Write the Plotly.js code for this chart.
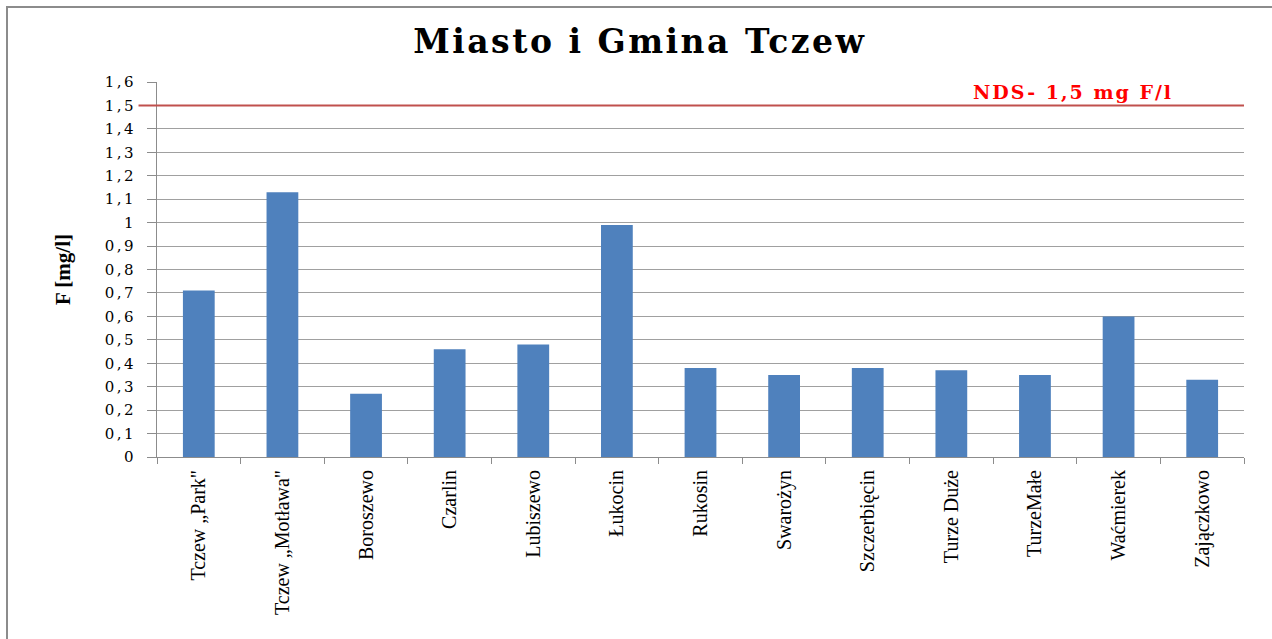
<!DOCTYPE html>
<html>
<head>
<meta charset="utf-8">
<script src="https://cdn.plot.ly/plotly-3.0.1.min.js"></script>
<style>
html,body{margin:0;padding:0;background:#fff;overflow:hidden;}
#chart{width:1272px;height:639px;}
#frame{position:absolute;left:6px;top:6px;width:1400px;height:800px;border-left:2px solid #8c8c8c;border-top:2px solid #8c8c8c;pointer-events:none;}
#chart .ytick text{letter-spacing:2.5px;}
#chart .gtitle{letter-spacing:2.5px;}
#chart .annotation-text{letter-spacing:2px;}
</style>
</head>
<body>
<div id="chart"></div>
<div id="frame"></div>
<script>
var categories = ['Tczew „Park"', 'Tczew „Motława"', 'Boroszewo', 'Czarlin', 'Lubiszewo', 'Łukocin', 'Rukosin', 'Swarożyn', 'Szczerbięcin', 'Turze Duże', 'TurzeMałe', 'Waćmierek', 'Zajączkowo'];
var fluorValues = [0.71, 1.13, 0.27, 0.46, 0.48, 0.99, 0.38, 0.35, 0.38, 0.37, 0.35, 0.60, 0.33];
var ndsLimit = 1.5;
var ndsLabel = 'NDS- 1,5 mg F/l';
var chartTitle = 'Miasto i Gmina Tczew';
var yTitle = 'F [mg/l]';

var serif = '"Liberation Serif", "Times New Roman", serif';
var wideSerif = '"DejaVu Serif", serif';

var trace = {
  type: 'bar',
  x: categories,
  y: fluorValues,
  marker: {color: '#4f81bd'},
  hoverinfo: 'x+y'
};

var layout = {
  width: 1272,
  height: 639,
  margin: {l: 157, r: 28, t: 82, b: 182},
  paper_bgcolor: '#ffffff',
  plot_bgcolor: '#ffffff',
  separators: ',.',
  bargap: 0.62,
  showlegend: false,
  title: {
    text: '<b>' + chartTitle + '</b>',
    font: {family: wideSerif, size: 33, color: '#000'},
    x: 0.503, xanchor: 'center',
    y: 0.935, yanchor: 'middle'
  },
  xaxis: {
    type: 'category',
    tickangle: -90,
    tickson: 'boundaries',
    ticks: 'outside',
    ticklen: 6,
    tickcolor: '#8c8c8c',
    showline: true,
    linecolor: '#8c8c8c',
    linewidth: 1,
    showgrid: false,
    ticklabelstandoff: 4,
    tickfont: {family: serif, size: 20, color: '#000'},
    automargin: false
  },
  yaxis: {
    range: [0, 1.6],
    dtick: 0.1,
    tick0: 0,
    ticks: 'outside',
    ticklen: 9,
    tickcolor: '#8c8c8c',
    showline: true,
    linecolor: '#8c8c8c',
    linewidth: 1,
    showgrid: true,
    gridcolor: '#a0a0a0',
    gridwidth: 1,
    zeroline: false,
    ticklabelstandoff: 8,
    tickfont: {family: wideSerif, size: 15, color: '#000'},
    title: {text: '<b>' + yTitle + '</b>', font: {family: serif, size: 21, color: '#000'}, standoff: 35},
    automargin: false
  },
  shapes: [{
    type: 'line', xref: 'paper', yref: 'y',
    x0: -0.017, x1: 1, y0: ndsLimit, y1: ndsLimit,
    line: {color: '#c0504d', width: 2}
  }],
  annotations: [{
    xref: 'paper', yref: 'y',
    x: 0.843, y: ndsLimit, yanchor: 'bottom', xanchor: 'center', yshift: 0,
    text: '<b>' + ndsLabel + '</b>',
    showarrow: false,
    font: {family: wideSerif, size: 19, color: '#ff0000'}
  }]
};

Plotly.newPlot('chart', [trace], layout, {displayModeBar: false, staticPlot: true});
</script>
</body>
</html>
